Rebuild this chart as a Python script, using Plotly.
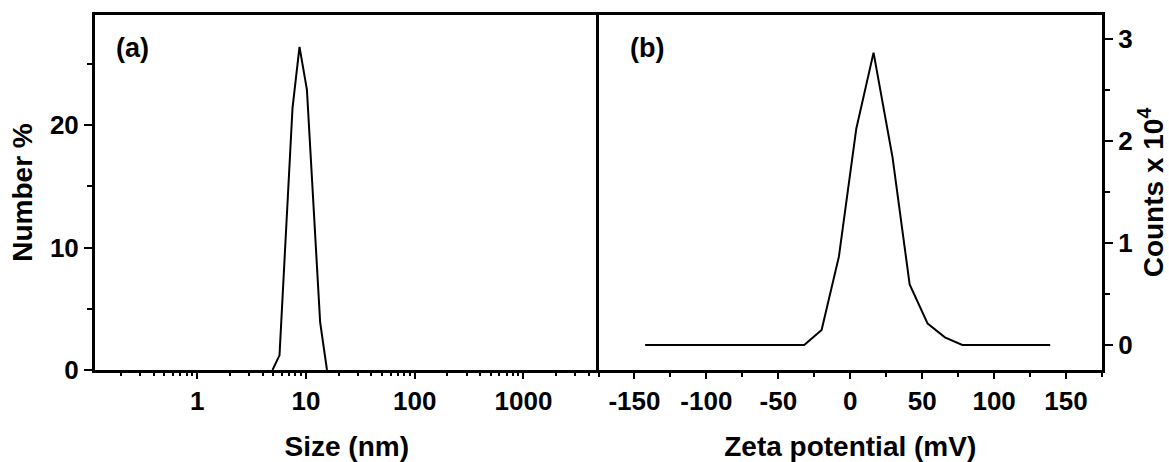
import plotly.graph_objects as go

# Panel (a): DLS size distribution
size_nm = [4.92, 5.71, 7.52, 8.72, 10.2, 13.5, 15.6]
number_pct = [0.0, 1.2, 21.4, 26.4, 22.9, 3.9, 0.0]

# Panel (b): zeta potential distribution
zeta_mv = [-142.6, -32.0, -19.9, -7.9, 4.2, 16.2, 29.4, 41.3, 53.8, 65.8, 77.9, 139.0]
counts_e4 = [0.0, 0.0, 0.147, 0.866, 2.12, 2.866, 1.84, 0.593, 0.21, 0.075, 0.0, 0.0]

x1_ticks = [1, 10, 100, 1000]
x2_ticks = [-150, -100, -50, 0, 50, 100, 150]
y1_ticks = [0, 10, 20]
y2_ticks = [0, 1, 2, 3]

FONT = "Liberation Sans"
TICKF = dict(family=FONT, size=26, color="black", weight=700)
TITLEF = dict(family=FONT, size=28, color="black", weight=700)

fig = go.Figure()
fig.add_trace(go.Scatter(x=size_nm, y=number_pct, mode="lines",
                         line=dict(color="black", width=2),
                         xaxis="x", yaxis="y", showlegend=False))
fig.add_trace(go.Scatter(x=zeta_mv, y=counts_e4, mode="lines",
                         line=dict(color="black", width=2),
                         xaxis="x2", yaxis="y2", showlegend=False))

common = dict(showline=True, linecolor="black", linewidth=3, automargin=False,
              showgrid=False, zeroline=False, ticks="outside",
              tickcolor="black", tickwidth=2, tickfont=TICKF)

minor_log = [a * b for b in [0.1, 1, 10, 100, 1000] for a in range(2, 10)]

fig.update_layout(
    width=1169, height=462,
    margin=dict(l=95, r=67, t=15, b=92),
    paper_bgcolor="white", plot_bgcolor="white",
    xaxis=dict(**common, mirror=True, type="log", domain=[0, 0.5], range=[-0.94, 3.69],
               tickvals=x1_ticks, ticktext=[str(v) for v in x1_ticks], ticklen=6,
               minor=dict(ticks="outside", ticklen=3, tickwidth=2, tickcolor="black",
                          tickvals=minor_log),
               title=dict(text="Size (nm)", font=TITLEF, standoff=28),
               anchor="y"),
    yaxis=dict(**common, mirror=False, domain=[0, 1], range=[0, 29], tickvals=y1_ticks, ticklen=8,
               minor=dict(ticks="outside", ticklen=5, tickwidth=2, tickcolor="black", dtick=5, tick0=0),
               title=dict(text="Number %", font=TITLEF, standoff=10),
               anchor="x"),
    xaxis2=dict(**common, mirror=True, domain=[0.5, 1], range=[-175, 175], tickvals=x2_ticks,
                ticktext=[str(v) for v in x2_ticks], ticklen=6,
                minor=dict(ticks="outside", ticklen=4, tickwidth=2, tickcolor="black", dtick=25, tick0=-175),
                title=dict(text="Zeta potential (mV)", font=TITLEF, standoff=28),
                anchor="y2"),
    yaxis2=dict(**common, mirror=True, domain=[0, 1], range=[-0.245, 3.235], side="right",
                tickvals=y2_ticks, ticklen=8,
                minor=dict(ticks="outside", ticklen=5, tickwidth=2, tickcolor="black", dtick=0.5, tick0=0),
                title=dict(text="Counts x 10<sup>4</sup>", font=TITLEF, standoff=18),
                anchor="x2"),
    annotations=[
        dict(text="(a)", x=0.0377, y=0.907, xref="paper", yref="paper",
             xanchor="center", yanchor="middle",
             showarrow=False, font=dict(family=FONT, size=27, color="black", weight=700)),
        dict(text="(b)", x=0.548, y=0.907, xref="paper", yref="paper",
             xanchor="center", yanchor="middle",
             showarrow=False, font=dict(family=FONT, size=27, color="black", weight=700)),
    ],
)

fig.write_html("out.html")
